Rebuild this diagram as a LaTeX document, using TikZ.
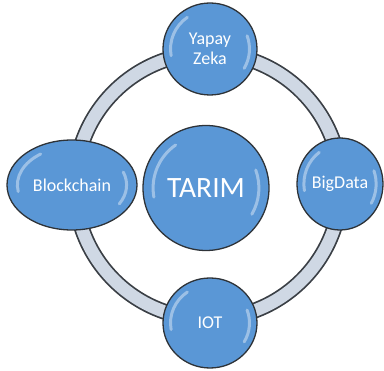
\documentclass[tikz,border=0pt]{standalone}
\usepackage{fontspec}
\setmainfont{Carlito}
\usetikzlibrary{shapes.geometric,calc}
\definecolor{ballblue}{HTML}{5A97D6}
\definecolor{balledge}{HTML}{2E3338}
\definecolor{ringfill}{HTML}{CFD8E4}
\definecolor{ringedge}{HTML}{3A3F45}
\tikzset{
  ball/.style={ellipse, draw=balledge, line width=1.3pt, fill=ballblue, text=white, inner sep=0pt, align=center, font=\fontsize{18}{20.5}\selectfont},
  sheen/.style={white, opacity=0.4, line width=3pt, line cap=round}
}
\begin{document}
\begin{tikzpicture}[x=1pt,y=-1pt]
\useasboundingbox (0,0) rectangle (384,371);
% ring
\coordinate (rc) at (208,186);
\draw[ringedge, line width=16pt] (rc) circle[radius=133];
\draw[ringfill, line width=12.5pt] (rc) circle[radius=133];
% nodes
\node[ball, minimum width=94, minimum height=92] (yz) at (210,49) {Yapay\\Zeka};
\node[ball, minimum width=126, minimum height=125, font=\fontsize{29.5}{32}\selectfont] (tarim) at (206,188) {TARIM};
\node[ball, minimum width=130, minimum height=90] (bc) at (72,185) {Blockchain};
\node[ball, minimum width=86, minimum height=92] (bd) at (340,184) {BigData};
\node[ball, minimum width=94, minimum height=90] (iot) at (210,323) {IOT};
% sheens
\foreach \n/\rx/\ry in {yz/47/46, tarim/63/62.5, bc/65/45, bd/43/46, iot/47/45}{
  \draw[sheen] ($(\n.center)+({0.84*\rx*cos(170)},{0.84*\ry*sin(170)})$)
     arc[start angle=170, end angle=235, x radius=0.84*\rx, y radius=0.84*\ry];
  \draw[sheen] ($(\n.center)+({0.84*\rx*cos(-20)},{0.84*\ry*sin(-20)})$)
     arc[start angle=-20, end angle=30, x radius=0.84*\rx, y radius=0.84*\ry];
}
\end{tikzpicture}
\end{document}
